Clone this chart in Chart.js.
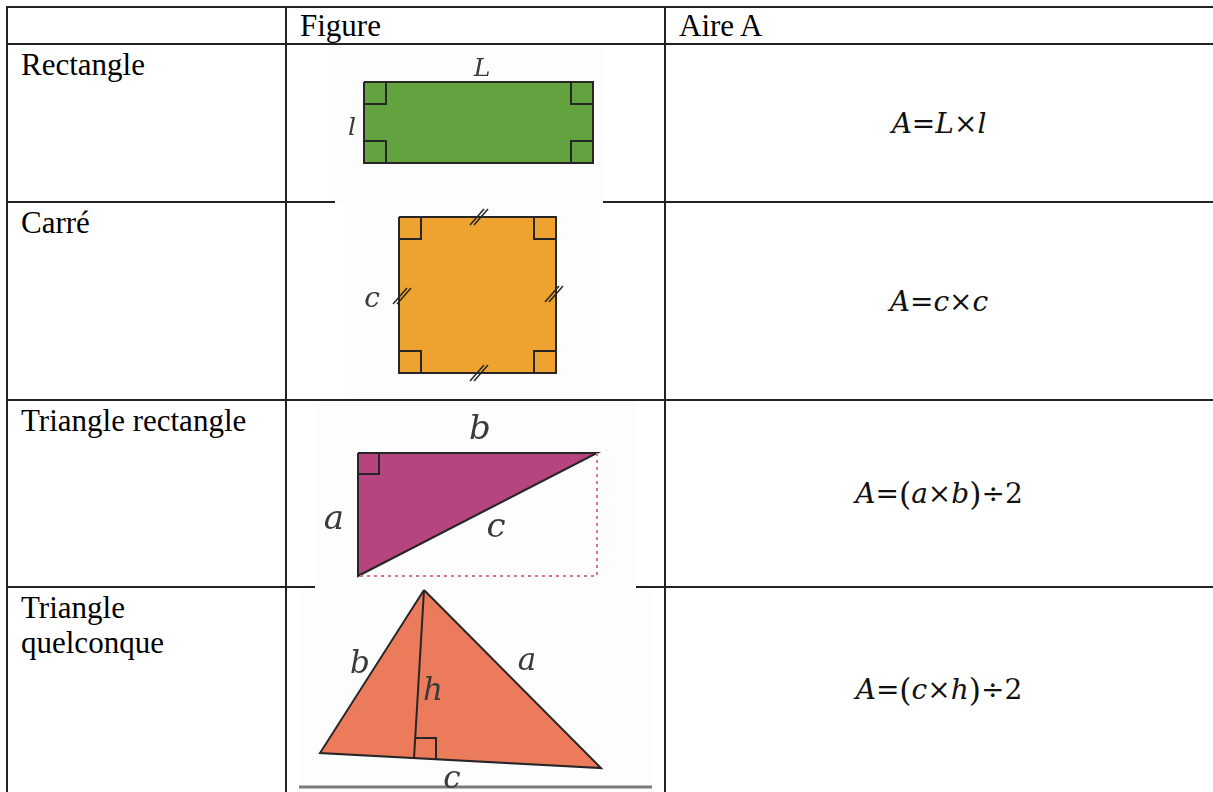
<!DOCTYPE html>
<html lang="fr">
<head>
<meta charset="utf-8">
<title>Aires des figures</title>
<script src="https://cdn.jsdelivr.net/npm/chart.js@4.4.1/dist/chart.umd.min.js"></script>
<style>
  html, body { margin: 0; padding: 0; background: #fff; overflow: hidden; }
  #page { position: relative; width: 1213px; height: 792px; }
  .hline, .vline { position: absolute; background: #222; z-index: 1; }
  .cell {
    position: absolute; font-family: "Liberation Serif", "Times New Roman", serif;
    font-size: 31px; line-height: 35px; color: #000; z-index: 1;
  }
  .formula {
    position: absolute; z-index: 1; display: flex; align-items: center; justify-content: center;
    font-family: "DejaVu Serif", serif; font-size: 28px; color: #111; white-space: pre;
  }
  .formula i { font-style: italic; }
  .formula .p { font-size: 1.12em; font-weight: 300; }
  .fig { position: absolute; z-index: 2; background: #fdfdfd; }
</style>
</head>
<body>
<div id="page"></div>
<script>
"use strict";

// table content
var headers = ['', 'Figure', 'Aire A'];
var rowLabels = ['Rectangle', 'Carré', 'Triangle rectangle', 'Triangle\nquelconque'];
var areaFormulas = ['A=L×l', 'A=c×c', 'A=(a×b)÷2', 'A=(c×h)÷2'];

// figure 1 : rectangle (units = px of the pasted picture)
var rectShape = [[29, 35], [258, 35], [258, 116], [29, 116], [29, 35]];
var rectAngles = [
  [[29, 57], [51, 57], [51, 35]],
  [[236, 35], [236, 57], [258, 57]],
  [[29, 94], [51, 94], [51, 116]],
  [[258, 94], [236, 94], [236, 116]]
];
var rectLabels = [['L', 147, 22], ['l', 17, 81]];

// figure 2 : carré
var squareShape = [[49, 13], [206, 13], [206, 169], [49, 169], [49, 13]];
var squareAngles = [
  [[49, 35], [71, 35], [71, 13]],
  [[184, 13], [184, 35], [206, 35]],
  [[49, 147], [71, 147], [71, 169]],
  [[206, 147], [184, 147], [184, 169]]
];
var squareTicks = [[129, 13], [52, 92], [204, 90], [129, 169]];
var squareLabels = [['c', 22, 96]];

// figure 3 : triangle rectangle
var rightTriShape = [[43, 52], [282, 52], [43, 175], [43, 52]];
var rightTriAngle = [[43, 73], [64, 73], [64, 52]];
var rightTriDotted = [[282, 52], [282, 175], [43, 175]];
var rightTriLabels = [['b', 165, 29], ['a', 19, 119], ['c', 181, 127]];

// figure 4 : triangle quelconque
var triShape = [[125, 2], [302, 180], [21, 165], [125, 2]];
var triHeight = [[125, 2], [115, 170]];
var triAngle = [[137, 171], [137, 150], [116, 150]];
var triBase = [[0, 199], [353, 199]];
var triLabels = [['b', 61, 77], ['a', 228, 74], ['h', 134, 104], ['c', 153, 192]];


var page = document.getElementById('page');

// table grid
var rowY = [7, 44, 202, 400, 587];
var colX = [7, 286, 665];
rowY.forEach(function (y) {
  var d = document.createElement('div');
  d.className = 'hline';
  d.style.cssText = 'left:6px;top:' + (y - 1) + 'px;width:1207px;height:2px;';
  page.appendChild(d);
});
colX.forEach(function (x) {
  var d = document.createElement('div');
  d.className = 'vline';
  d.style.cssText = 'left:' + (x - 1) + 'px;top:6px;width:2px;height:786px;';
  page.appendChild(d);
});

function addCell(text, x, y) {
  var d = document.createElement('div');
  d.className = 'cell';
  d.style.left = (x + 14) + 'px';
  d.style.top = y + 'px';
  d.innerHTML = text.split('\n').join('<br>');
  page.appendChild(d);
}
headers.forEach(function (h, i) { if (h) addCell(h, colX[i], rowY[0] + 1); });
rowLabels.forEach(function (t, i) { addCell(t, colX[0], rowY[i + 1] + 3); });

var rowEnd = [202, 400, 587, 792];
areaFormulas.forEach(function (f, i) {
  var d = document.createElement('div');
  d.className = 'formula';
  d.style.cssText = 'left:666px;width:546px;top:' + rowY[i + 1] + 'px;height:' + (rowEnd[i] - rowY[i + 1]) + 'px;';
  var html = '';
  f.split('').forEach(function (ch) {
    if (/[a-zA-Z]/.test(ch)) html += '<i>' + ch + '</i>';
    else if (ch === '(' || ch === ')') html += '<span class="p">' + ch + '</span>';
    else html += ch;
  });
  d.innerHTML = html;
  page.appendChild(d);
});

// labels of the figures, drawn at data positions
var figLabels = {
  id: 'figLabels',
  afterDatasetsDraw: function (chart, args, opts) {
    var ctx = chart.ctx, x = chart.scales.x, y = chart.scales.y;
    ctx.save();
    ctx.fillStyle = opts.color;
    ctx.textAlign = 'center';
    ctx.textBaseline = 'middle';
    ctx.font = 'italic ' + opts.size + 'px "DejaVu Serif"';
    opts.items.forEach(function (it) {
      ctx.fillText(it[0], x.getPixelForValue(it[1]), y.getPixelForValue(it[2]));
    });
    ctx.restore();
  }
};

function pts(list) {
  return list.map(function (p) { return { x: p[0], y: p[1] }; });
}
// strokes get order 0 so they are painted above the filled shapes (order 1)
function stroke(list, color, width, dash) {
  return {
    data: pts(list), borderColor: color, borderWidth: width, order: 0,
    borderDash: dash || [], fill: false, pointRadius: 0, tension: 0
  };
}
function shape(list, color) {
  return {
    data: pts(list), borderColor: '#262626', backgroundColor: color, borderWidth: 2, order: 1,
    fill: 'shape', pointRadius: 0, tension: 0, borderJoinStyle: 'miter'
  };
}

function figure(left, top, w, h, datasets, labels, labelSize) {
  var c = document.createElement('canvas');
  c.className = 'fig';
  c.width = w;
  c.height = h;
  c.style.left = left + 'px';
  c.style.top = top + 'px';
  page.appendChild(c);
  return new Chart(c.getContext('2d'), {
    type: 'line',
    data: { datasets: datasets },
    options: {
      responsive: false,
      animation: false,
      events: [],
      layout: { padding: 0 },
      plugins: {
        legend: { display: false },
        tooltip: { enabled: false },
        figLabels: { items: labels, size: labelSize, color: '#3a3a3a' }
      },
      scales: {
        x: { type: 'linear', min: 0, max: w, display: false },
        y: { type: 'linear', min: 0, max: h, reverse: true, display: false }
      }
    },
    plugins: [figLabels]
  });
}

// rectangle
figure(335, 47, 268, 157,
  [shape(rectShape, '#63a33f')].concat(rectAngles.map(function (a) { return stroke(a, '#262626', 2); })),
  rectLabels, 25);

// carré
var tickStrokes = [];
squareTicks.forEach(function (t) {
  [-2, 2].forEach(function (d) {
    tickStrokes.push(stroke([[t[0] + d - 7, t[1] + 8], [t[0] + d + 7, t[1] - 8]], '#262626', 1.5));
  });
});
figure(350, 204, 250, 194,
  [shape(squareShape, '#eea22f')]
    .concat(squareAngles.map(function (a) { return stroke(a, '#262626', 2); }))
    .concat(tickStrokes),
  squareLabels, 28);

// triangle rectangle
figure(315, 401, 321, 187,
  [shape(rightTriShape, '#b5447f'), stroke(rightTriAngle, '#262626', 2),
   stroke(rightTriDotted, '#d4788a', 2, [3, 4])],
  rightTriLabels, 34);

// triangle quelconque
figure(299, 588, 353, 204,
  [shape(triShape, '#ec7b5c'), stroke(triHeight, '#262626', 2), stroke(triAngle, '#262626', 2),
   stroke(triBase, '#7a7a7a', 3)],
  triLabels, 31);
</script>
</body>
</html>
